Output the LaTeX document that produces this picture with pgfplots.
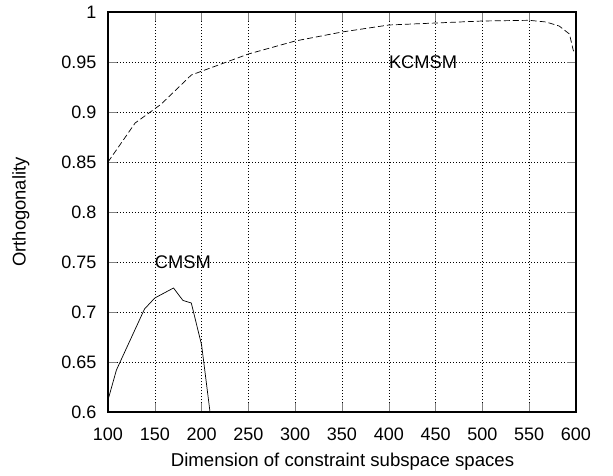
\documentclass[border=0pt]{standalone}
\usepackage{fontspec}
\setmainfont{Liberation Sans}
\usepackage{pgfplots}
\pgfplotsset{compat=1.18}
\begin{document}
\begin{tikzpicture}
\begin{axis}[
  at={(0,0)}, anchor=south west,
  scale only axis,
  width=468pt, height=400pt,
  xmin=100, xmax=600, ymin=0.6, ymax=1,
  xtick={100,150,...,600},
  ytick={0.6,0.65,...,1.001},
  yticklabel style={/pgf/number format/fixed,/pgf/number format/precision=2, xshift=-8pt},
  xticklabel style={yshift=-12pt},
  /pgf/number format/assume math mode=true,
  tick label style={font=\fontsize{18}{20}\selectfont},
  tick align=inside,
  major tick length=9pt,
  xtick pos=both, ytick pos=both,
  grid=major,
  major grid style={black, line width=0.5pt, dash pattern=on 1pt off 2pt},
  axis line style={line width=1.1pt},
  xlabel={Dimension of constraint subspace spaces},
  ylabel={Orthogonality},
  every axis y label/.style={at={(axis description cs:-0.186,0.5)}, rotate=90, anchor=center, font=\fontsize{18.4}{20}\selectfont},
  every axis x label/.style={at={(axis description cs:0.5,0)}, anchor=base, yshift=-54pt, xshift=0.5pt, font=\fontsize{18.6}{20}\selectfont},
  clip=true,
]
\addplot[black, line width=0.7pt, dash pattern=on 6pt off 3pt] coordinates {
(100,0.850) (129,0.889) (157,0.908) (189,0.937) (250,0.958) (300,0.971) (350,0.980)
(400,0.987) (450,0.989) (500,0.991) (550,0.9917) (568,0.990) (582,0.986) (593,0.978) (597,0.962) (600,0.957)
};
\addplot[black, line width=0.7pt] coordinates {
(100,0.612) (109,0.642) (139,0.703) (150,0.714) (170,0.724) (180,0.7116) (189,0.709) (200,0.667) (209,0.600) (212,0.59)
};
\node[anchor=west, inner sep=0pt, font=\fontsize{18.3}{20}\selectfont] at (axis cs:400,0.95) {KCMSM};
\node[anchor=west, inner sep=0pt, font=\fontsize{18.3}{20}\selectfont] at (axis cs:150,0.75) {CMSM};
\end{axis}
\pgfresetboundingbox
\path[use as bounding box] (-108pt,-63pt) rectangle (505pt,412pt);
\end{tikzpicture}
\end{document}
